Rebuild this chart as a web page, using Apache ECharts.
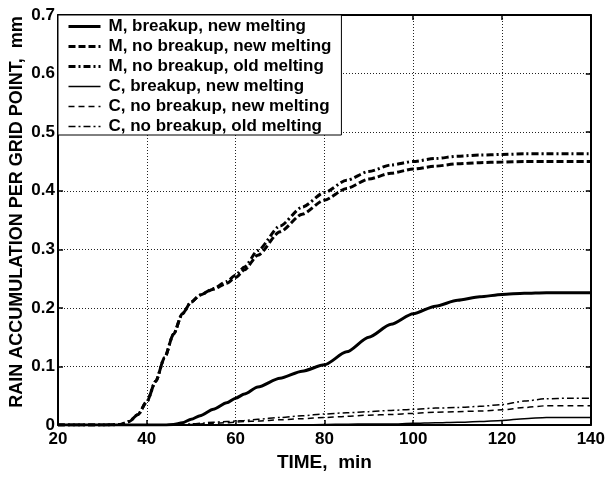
<!DOCTYPE html>
<html>
<head>
<meta charset="utf-8">
<script src="https://cdn.jsdelivr.net/npm/echarts@6/dist/echarts.min.js"></script>
<style>
  html, body { margin: 0; padding: 0; background: #fff; }
  #chart { width: 608px; height: 477px; }
</style>
</head>
<body>
<div id="chart"></div>
<script>
// Time axis (min) shared by all runs
const time = [20, 30, 34, 36, 38, 40, 42, 44, 46, 48, 50, 52, 55, 58, 60, 62, 65, 70, 75, 80, 85, 90, 95, 100, 105, 110, 115, 120, 125, 130, 135, 140];

// Rain accumulation per grid point (mm)
const mBreakupNew   = [0, 0, 0, 0, 0, 0, 0, 0, 0.001, 0.004, 0.010, 0.016, 0.027, 0.038, 0.046, 0.053, 0.065, 0.080, 0.092, 0.103, 0.125, 0.150, 0.172, 0.190, 0.203, 0.213, 0.219, 0.223, 0.225, 0.226, 0.226, 0.226];
const mNoBreakupNew = [0, 0, 0.001, 0.006, 0.018, 0.040, 0.075, 0.115, 0.155, 0.190, 0.210, 0.222, 0.232, 0.242, 0.252, 0.265, 0.290, 0.330, 0.360, 0.384, 0.404, 0.420, 0.430, 0.437, 0.442, 0.446, 0.448, 0.449, 0.450, 0.450, 0.450, 0.450];
const mNoBreakupOld = [0, 0, 0.001, 0.006, 0.018, 0.040, 0.075, 0.115, 0.155, 0.190, 0.210, 0.222, 0.233, 0.245, 0.256, 0.270, 0.298, 0.340, 0.372, 0.397, 0.418, 0.433, 0.444, 0.450, 0.455, 0.459, 0.461, 0.462, 0.463, 0.463, 0.463, 0.463];
const cBreakupNew   = [0, 0, 0, 0, 0, 0, 0, 0, 0, 0, 0, 0, 0, 0, 0, 0, 0, 0, 0.0005, 0.001, 0.0015, 0.002, 0.002, 0.003, 0.004, 0.005, 0.006, 0.008, 0.011, 0.013, 0.013, 0.013];
const cNoBreakupNew = [0, 0, 0, 0, 0, 0, 0, 0, 0, 0, 0.001, 0.002, 0.003, 0.004, 0.005, 0.006, 0.007, 0.009, 0.011, 0.013, 0.015, 0.017, 0.018, 0.020, 0.022, 0.023, 0.024, 0.026, 0.030, 0.033, 0.033, 0.033];
const cNoBreakupOld = [0, 0, 0, 0, 0, 0, 0, 0, 0, 0.001, 0.002, 0.003, 0.005, 0.006, 0.007, 0.008, 0.010, 0.013, 0.016, 0.019, 0.021, 0.023, 0.025, 0.027, 0.029, 0.030, 0.032, 0.035, 0.041, 0.045, 0.046, 0.046];

const seriesNames = [
  'M, breakup, new melting',
  'M, no breakup, new melting',
  'M, no breakup, old melting',
  'C, breakup, new melting',
  'C, no breakup, new melting',
  'C, no breakup, old melting'
];
const seriesValues = [mBreakupNew, mNoBreakupNew, mNoBreakupOld, cBreakupNew, cNoBreakupNew, cNoBreakupOld];
const seriesStyles = [
  { width: 3, type: 'solid' },
  { width: 3, type: [7, 3] },
  { width: 3, type: [7, 3, 2, 3] },
  { width: 1.5, type: 'solid' },
  { width: 1.5, type: [6, 4] },
  { width: 1.5, type: [7, 3, 2, 3] }
];

const FONT = '"Liberation Sans", Arial, Helvetica, sans-serif';

const chart = echarts.init(document.getElementById('chart'), null, { renderer: 'canvas' });

const frameLine = { show: true, onZero: false, lineStyle: { color: '#000', width: 2 } };
const inTick = { show: true, inside: true, length: 5, lineStyle: { color: '#000', width: 1.5 } };

chart.setOption({
  animation: false,
  backgroundColor: '#fff',
  grid: { left: 58, right: 16, top: 15, bottom: 44, containLabel: false },
  xAxis: [
    {
      type: 'value', min: 20, max: 140, interval: 20, position: 'bottom',
      name: 'TIME,  min', nameLocation: 'middle', nameGap: 24,
      nameTextStyle: { fontFamily: FONT, fontWeight: 'bold', fontSize: 19, color: '#000' },
      axisLine: frameLine, axisTick: inTick,
      axisLabel: { fontFamily: FONT, fontWeight: 'bold', fontSize: 17, color: '#000', margin: 6 },
      splitLine: { show: true, lineStyle: { color: '#222', width: 1, type: [1, 2] } }
    },
    {
      type: 'value', min: 20, max: 140, interval: 20, position: 'top',
      axisLine: frameLine, axisTick: inTick,
      axisLabel: { show: false }, splitLine: { show: false }
    }
  ],
  yAxis: [
    {
      type: 'value', min: 0, max: 0.7, interval: 0.1, position: 'left',
      axisLine: frameLine, axisTick: inTick,
      axisLabel: { fontFamily: FONT, fontWeight: 'bold', fontSize: 17, color: '#000', margin: 3 },
      splitLine: { show: true, lineStyle: { color: '#222', width: 1, type: [1, 2] } }
    },
    {
      type: 'value', min: 0, max: 0.7, interval: 0.1, position: 'right',
      axisLine: frameLine, axisTick: inTick,
      axisLabel: { show: false }, splitLine: { show: false }
    }
  ],
  legend: {
    orient: 'vertical', left: 58, top: 15,
    padding: [3, 10, 0, 9],
    itemWidth: 32, itemHeight: 12, itemGap: 3,
    backgroundColor: '#fff', borderColor: '#000', borderWidth: 1,
    itemStyle: { opacity: 0 },
    textStyle: { fontFamily: FONT, fontWeight: 'bold', fontSize: 17, lineHeight: 17, color: '#000', padding: [0, 0, 0, 3] },
    data: seriesNames.map((name, i) => ({
      name: name,
      itemStyle: { opacity: 0 },
      lineStyle: { color: '#000', width: seriesStyles[i].width, type: seriesStyles[i].type }
    }))
  },
  graphic: [
    {
      type: 'text', rotation: Math.PI / 2, x: 17, y: 212,
      style: {
        text: 'RAIN ACCUMULATION PER GRID POINT,  mm',
        font: 'bold 18px ' + FONT, fill: '#000',
        textAlign: 'center', textVerticalAlign: 'middle'
      }
    }
  ],
  series: seriesNames.map((name, i) => ({
    name: name,
    type: 'line',
    xAxisIndex: 0, yAxisIndex: 0,
    data: time.map((t, k) => [t, seriesValues[i][k]]),
    showSymbol: false, symbol: 'none',
    smooth: 0.25, smoothMonotone: 'x',
    lineStyle: { color: '#000', width: seriesStyles[i].width, type: seriesStyles[i].type },
    itemStyle: { color: '#000' },
    z: 3
  }))
});
</script>
</body>
</html>
